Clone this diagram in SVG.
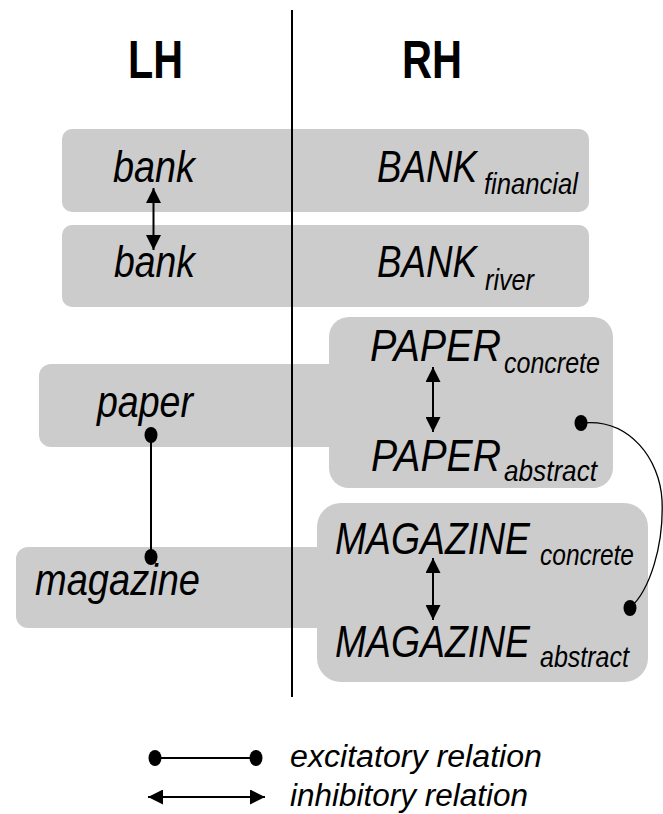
<svg xmlns="http://www.w3.org/2000/svg" width="663" height="814" viewBox="0 0 663 814">
<defs>
<style>
.box{fill:#cccccc;stroke:none}
.w{font-family:"Liberation Sans",Arial,sans-serif;font-style:italic;font-size:44px;fill:#000}
.s{font-family:"Liberation Sans",Arial,sans-serif;font-style:italic;font-size:29px;fill:#000}
.t{font-family:"Liberation Sans",Arial,sans-serif;font-weight:bold;font-size:54px;fill:#000}
.l{font-family:"Liberation Sans",Arial,sans-serif;font-style:italic;font-size:31px;fill:#000}
.ln{stroke:#000;stroke-width:2;fill:none}
.inh{stroke:#000;stroke-width:2;fill:none;marker-start:url(#ah);marker-end:url(#ah)}
.dot{fill:#000}
</style>
<marker id="ah" viewBox="0 0 15 15" refX="15" refY="7.5" markerWidth="15" markerHeight="15" markerUnits="userSpaceOnUse" orient="auto-start-reverse">
<path d="M0,0 L15,7.5 L0,15 Z" fill="#000"/>
</marker>
</defs>
<rect width="663" height="814" fill="#fff"/>

<g id="titles">
<text class="t" x="128" y="78" textLength="55" lengthAdjust="spacingAndGlyphs">LH</text>
<text class="t" x="402" y="78" textLength="60" lengthAdjust="spacingAndGlyphs">RH</text>
</g>

<g id="bank-financial">
<rect class="box" x="62" y="129" width="527" height="83" rx="10"/>
<text class="w" x="113" y="182" textLength="82" lengthAdjust="spacingAndGlyphs">bank</text>
<text class="w" x="377" y="182" textLength="100" lengthAdjust="spacingAndGlyphs">BANK</text>
<text class="s" x="484" y="194" textLength="94" lengthAdjust="spacingAndGlyphs">financial</text>
</g>

<g id="bank-river">
<rect class="box" x="62" y="225" width="527" height="82" rx="10"/>
<text class="w" x="114" y="277" textLength="81" lengthAdjust="spacingAndGlyphs">bank</text>
<text class="w" x="377" y="277" textLength="100" lengthAdjust="spacingAndGlyphs">BANK</text>
<text class="s" x="485" y="290" textLength="49" lengthAdjust="spacingAndGlyphs">river</text>
</g>

<g id="paper">
<rect class="box" x="39" y="364" width="310" height="83" rx="12"/>
<rect class="box" x="329" y="317" width="284" height="171" rx="20"/>
<text class="w" x="97" y="417" textLength="96" lengthAdjust="spacingAndGlyphs">paper</text>
<text class="w" x="370" y="361" textLength="131" lengthAdjust="spacingAndGlyphs">PAPER</text>
<text class="s" x="504" y="373" textLength="96" lengthAdjust="spacingAndGlyphs">concrete</text>
<text class="w" x="371" y="471" textLength="130" lengthAdjust="spacingAndGlyphs">PAPER</text>
<text class="s" x="504" y="481" textLength="93" lengthAdjust="spacingAndGlyphs">abstract</text>
</g>

<g id="magazine">
<rect class="box" x="16" y="547" width="320" height="81" rx="12"/>
<rect class="box" x="317" y="503" width="331" height="179" rx="24"/>
<text class="w" x="35" y="595" textLength="165" lengthAdjust="spacingAndGlyphs">magazine</text>
<text class="w" x="335" y="554" textLength="195" lengthAdjust="spacingAndGlyphs">MAGAZINE</text>
<text class="s" x="540" y="565" textLength="94" lengthAdjust="spacingAndGlyphs">concrete</text>
<text class="w" x="335" y="657" textLength="195" lengthAdjust="spacingAndGlyphs">MAGAZINE</text>
<text class="s" x="540" y="667" textLength="89" lengthAdjust="spacingAndGlyphs">abstract</text>
</g>

<g id="divider">
<line class="ln" x1="292" y1="10" x2="292" y2="697"/>
</g>

<g id="connectors">
<line class="inh" x1="153.5" y1="188" x2="153.5" y2="250"/>
<line class="inh" x1="433" y1="367" x2="433" y2="432"/>
<line class="inh" x1="433" y1="558" x2="433" y2="620"/>
<line class="ln" x1="151" y1="435" x2="151" y2="557"/>
<ellipse class="dot" cx="151" cy="435" rx="6.5" ry="8"/>
<ellipse class="dot" cx="151" cy="557" rx="6.5" ry="8"/>
<path d="M582,423 C630,418 660,460 662,500 C664,545 650,590 630,608" stroke="#000" stroke-width="1.3" fill="none"/>
<ellipse class="dot" cx="581" cy="423" rx="6.5" ry="8"/>
<ellipse class="dot" cx="630" cy="608" rx="6.5" ry="8"/>
</g>

<g id="legend">
<line class="ln" x1="155" y1="758" x2="256" y2="758"/>
<ellipse class="dot" cx="155" cy="758" rx="6.5" ry="8"/>
<ellipse class="dot" cx="256" cy="758" rx="6.5" ry="8"/>
<text class="l" x="290" y="767" textLength="252" lengthAdjust="spacingAndGlyphs">excitatory relation</text>
<line class="inh" x1="148" y1="797" x2="265" y2="797"/>
<text class="l" x="290" y="806" textLength="238" lengthAdjust="spacingAndGlyphs">inhibitory relation</text>
</g>
</svg>
